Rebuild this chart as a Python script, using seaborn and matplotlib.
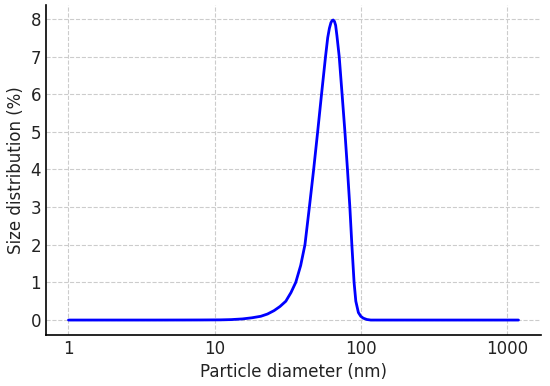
import numpy as np
import pandas as pd
import matplotlib
matplotlib.use("Agg")
import matplotlib.pyplot as plt
import matplotlib.ticker as mticker
import seaborn as sns

diameter_nm = [1, 2, 4, 6, 8, 11, 13, 15.5, 18, 20.7, 23, 25.5, 28, 30.7, 33.3, 35.9, 38.8,
               41.5, 44.5, 47.6, 50.7, 53.9, 57.4, 59.4, 61.0, 62.5, 63.8, 64.9, 66.1,
               67.3, 68.7, 71.2, 74.5, 77.9, 81.1, 84.2, 86.9, 90, 92.5, 96.3, 100, 104,
               110, 117, 150, 300, 600, 1200]
size_dist = [0, 0, 0, 0.001, 0.002, 0.005, 0.012, 0.03, 0.06, 0.1, 0.16, 0.25, 0.36, 0.5,
             0.73, 1.0, 1.45, 2.0, 3.0, 4.0, 5.0, 6.0, 7.0, 7.5, 7.75, 7.9, 7.96, 7.97,
             7.93, 7.83, 7.55, 7.0, 6.0, 5.0, 4.0, 3.0, 2.0, 1.0, 0.5, 0.2, 0.1, 0.05,
             0.015, 0.0, 0, 0, 0, 0]
x_ticks = [1, 10, 100, 1000]
x_tick_labels = ["1", "10", "100", "1000"]
y_ticks = [0, 1, 2, 3, 4, 5, 6, 7, 8]

df = pd.DataFrame({"d": diameter_nm, "p": size_dist})

sns.set_style("white")
plt.rcParams["font.family"] = ["DejaVu Sans"]

fig, ax = plt.subplots(figsize=(5.5, 3.86), dpi=100)
fig.subplots_adjust(left=0.0836, right=0.9836, bottom=0.132, top=0.987)

sns.lineplot(data=df, x="d", y="p", ax=ax, color="#0000FF", linewidth=2)
ax.set_xscale("log")
ax.set_xticks(x_ticks)
ax.set_xticklabels(x_tick_labels)
ax.xaxis.set_minor_locator(mticker.LogLocator(base=10, subs=np.arange(2, 10)))
ax.xaxis.set_minor_formatter(mticker.NullFormatter())
ax.set_yticks(y_ticks)

ax.grid(True, which="major", linestyle="--", color="#cccccc", linewidth=0.8)
for s in ["top", "right"]:
    ax.spines[s].set_visible(False)
for s in ["left", "bottom"]:
    ax.spines[s].set_color("black")
    ax.spines[s].set_linewidth(1.2)

ax.tick_params(axis="both", which="major", direction="in", length=5, width=1,
               labelsize=12, color="black", labelcolor="#222222")
ax.tick_params(axis="x", which="minor", direction="in", length=3, width=0.8, color="black")
ax.set_xlabel("Particle diameter (nm)", fontsize=12, color="#222222")
ax.set_ylabel("Size distribution (%)", fontsize=12, color="#222222")

fig.savefig("out.png", dpi=100)
